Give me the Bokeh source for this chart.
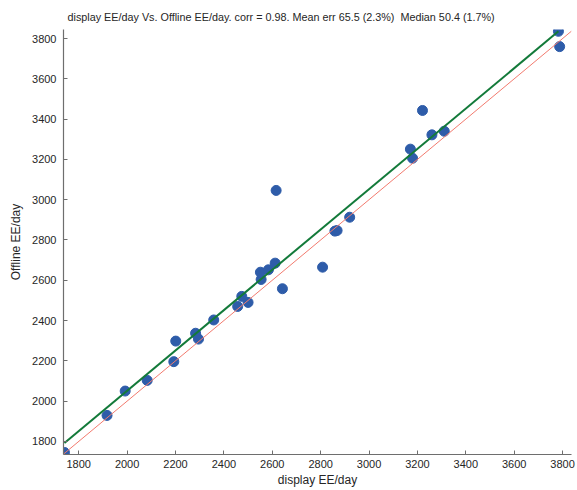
from bokeh.plotting import figure
from bokeh.models import FixedTicker, ColumnDataSource
from bokeh.embed import file_html
from bokeh.resources import INLINE

display_ee = [1741, 1917, 1992, 2083, 2193, 2201, 2283, 2295, 2358, 2457,
              2474, 2500, 2554, 2551, 2584, 2612, 2616, 2642, 2808, 2859,
              2868, 2920, 3171, 3180, 3221, 3260, 3311, 3783, 3788]
offline_ee = [1745, 1929, 2050, 2103, 2196, 2298, 2337, 2308, 2403, 2470,
              2520, 2490, 2604, 2640, 2652, 2685, 3046, 2558, 2665, 2844,
              2847, 2913, 3251, 3206, 3443, 3322, 3340, 3836, 3760]

fit_x = [1741, 3783]
fit_y = [1792, 3836]
identity_x = [1737, 3837]
identity_y = [1737, 3837]

ticks = [1800, 2000, 2200, 2400, 2600, 2800, 3000, 3200, 3400, 3600, 3800]

title_text = "display EE/day Vs. Offline EE/day. corr = 0.98. Mean err 65.5 (2.3%) \u00a0Median 50.4 (1.7%)"

p = figure(width=577, height=490, output_backend="svg", toolbar_location=None,
           x_range=(1737, 3837), y_range=(1735, 3845),
           min_border_left=63, min_border_right=6, min_border_top=29, min_border_bottom=36,
           title=title_text)

FONT = "Liberation Sans"
p.title.text_font = FONT
p.title.text_font_size = "10.8px"
p.title.text_font_style = "normal"
p.title.text_color = "#262626"
p.title.align = "left"
p.title.offset = 4
p.title.standoff = 14

p.outline_line_color = None
p.xgrid.visible = False
p.ygrid.visible = False
p.background_fill_color = "white"
p.border_fill_color = "white"

for ax in (p.xaxis[0], p.yaxis[0]):
    ax.ticker = FixedTicker(ticks=ticks)
    ax.axis_line_color = "#6e6e6e"
    ax.axis_line_width = 1.2
    ax.major_tick_line_color = "#6e6e6e"
    ax.major_tick_in = 4
    ax.major_tick_out = 0
    ax.minor_tick_line_color = None
    ax.major_label_text_font = FONT
    ax.major_label_text_font_size = "11px"
    ax.major_label_text_color = "#262626"
    ax.axis_label_text_font = FONT
    ax.axis_label_text_font_size = "12px"
    ax.axis_label_text_font_style = "normal"
    ax.axis_label_text_color = "#262626"

p.xaxis.axis_label = "display EE/day"
p.yaxis.axis_label = "Offline EE/day"
p.xaxis.major_label_standoff = 5
p.yaxis.major_label_standoff = 7
p.xaxis.axis_label_standoff = 2
p.yaxis.axis_label_standoff = 6

src = ColumnDataSource(dict(x=display_ee, y=offline_ee))
p.scatter("x", "y", source=src, size=10, fill_color="#2e5ca9", line_color="#2e5ca9")
p.line(identity_x, identity_y, line_color="#f27a6e", line_width=1)
p.line(fit_x, fit_y, line_color="#137a3a", line_width=2)

open("out.html", "w").write(file_html(p, INLINE))
